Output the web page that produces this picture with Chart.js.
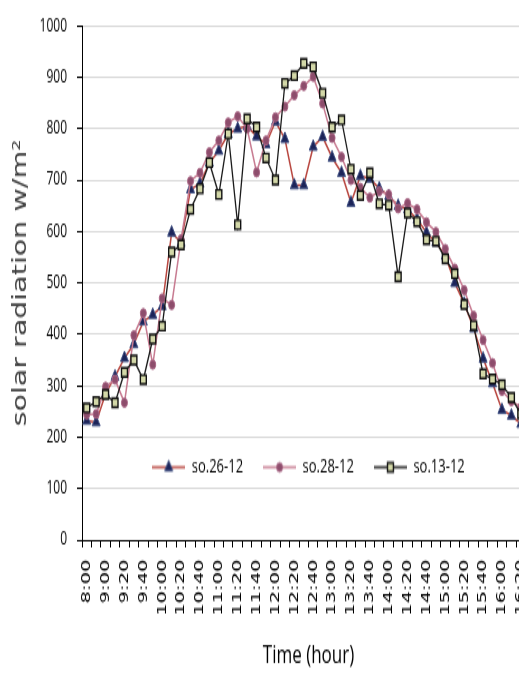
<!DOCTYPE html>
<html>
<head>
<meta charset="utf-8">
<script src="https://cdn.jsdelivr.net/npm/chart.js@4.4.1/dist/chart.umd.min.js"></script>
<style>
    html { overflow: hidden; background: #fff; }
    body { margin: 0; padding: 0; height: 677px; }
    /* the original picture is stretched vertically, so the chart is too */
    #wrap { position: relative; width: 554px; height: 451px; transform: scaleY(1.5); transform-origin: 0 0; }
</style>
</head>
<body>
<div id="wrap"><canvas id="radChart"></canvas></div>
<script>
// time of each reading (every other one is printed on the axis)
const times = ["8:00", "8:30", "9:00", "9:10", "9:20", "9:30", "9:40", "9:50",
    "10:00", "10:10", "10:20", "10:30", "10:40", "10:50", "11:00", "11:10", "11:20", "11:30", "11:40", "11:50",
    "12:00", "12:10", "12:20", "12:30", "12:40", "12:50", "13:00", "13:10", "13:20", "13:30", "13:40", "13:50",
    "14:00", "14:10", "14:20", "14:30", "14:40", "14:50", "15:00", "15:10", "15:20", "15:30", "15:40", "15:50",
    "16:00", "16:10", "16:20", "16:30"];

// solar radiation, W/m2
const so26 = [232, 229, 285, 318, 354, 381, 425, 438, 455, 598, 578, 682, 693, 734, 757, 790,
    800, 805, 785, 770, 814, 780, 690, 690, 765, 784, 744, 714, 656, 708, 703, 684,
    669, 650, 643, 624, 598, 579, 553, 500, 460, 412, 353, 305, 253, 242, 226, 215];
const so28 = [244, 245, 298, 312, 267, 398, 441, 341, 470, 457, 585, 698, 714, 754, 777, 812,
    824, 800, 715, 777, 822, 843, 865, 883, 901, 849, 782, 745, 700, 685, 666, 678,
    672, 645, 655, 643, 618, 599, 566, 528, 486, 436, 389, 344, 290, 270, 258, 248];
const so13 = [257, 269, 283, 267, 326, 350, 312, 391, 416, 560, 574, 643, 683, 734, 672, 790,
    613, 819, 803, 743, 700, 888, 903, 927, 920, 869, 803, 817, 721, 670, 714, 654,
    651, 512, 636, 619, 584, 581, 547, 518, 458, 417, 323, 313, 302, 277, 245, 235];

const yMin = 0;
const yMax = 1000;
const yStep = 100;

// so.13-12 first so it is drawn on top; legend is reversed back
const datasets = [
    {
        label: "so.13-12", data: so13,
        borderColor: "#1a1a1a", borderWidth: 1.3,
        pointStyle: "rect", pointRadius: 4.2,
        pointBackgroundColor: "#d3d8a8", pointBorderColor: "#111", pointBorderWidth: 1.4,
    },
    {
        label: "so.28-12", data: so28,
        borderColor: "#c77b91", borderWidth: 1.5,
        pointStyle: "circle", pointRadius: 3,
        pointBackgroundColor: "#8d4d6c", pointBorderColor: "#a86383", pointBorderWidth: 1,
    },
    {
        label: "so.26-12", data: so26,
        borderColor: "#b8463f", borderWidth: 1.5,
        pointStyle: "triangle", pointRadius: 4.6,
        pointBackgroundColor: "#1c2459", pointBorderColor: "#3d4d80", pointBorderWidth: 1,
    },
];
datasets.forEach(ds => { ds.tension = 0; ds.fill = false; });

// little "line + marker" picture for each legend entry
function legendSymbol(ds) {
    const c = document.createElement("canvas");
    c.width = 33;
    c.height = 16;
    const g = c.getContext("2d");
    g.strokeStyle = ds.borderColor;
    g.lineWidth = ds.borderWidth;
    g.beginPath();
    g.moveTo(0, 8);
    g.lineTo(33, 8);
    g.stroke();
    g.fillStyle = ds.pointBackgroundColor;
    g.strokeStyle = ds.pointBorderColor;
    g.lineWidth = ds.pointBorderWidth;
    Chart.helpers.drawPoint(g, {
        pointStyle: ds.pointStyle, radius: ds.pointRadius, rotation: 0, borderWidth: ds.pointBorderWidth,
    }, 16.5, 8);
    return c;
}
const symbols = datasets.map(legendSymbol);

// put the legend inside the plot, near the bottom, like the original
const legendInside = {
    id: "legendInside",
    beforeLayout(chart) {
        const lg = chart.legend;
        if (lg && !lg._inside) {
            const fit = lg.fit;
            lg.fit = function () { fit.call(this); this.height = 0; };
            lg._inside = true;
        }
    },
    afterLayout(chart) {
        const lg = chart.legend;
        const area = chart.chartArea;
        const cy = area.bottom - 46;
        lg.left = area.left;
        lg.right = area.right;
        lg.width = area.right - area.left;
        lg.top = cy - 29;
        lg.bottom = cy + 20;
        lg.height = 49;
    },
};

const ctx = document.getElementById("radChart").getContext("2d");
new Chart(ctx, {
    type: "line",
    data: { labels: times, datasets: datasets },
    plugins: [legendInside],
    options: {
        responsive: true,
        maintainAspectRatio: false,
        animation: false,
        layout: { padding: { top: 15, right: 12, bottom: 0, left: 0 } },
        plugins: {
            tooltip: { enabled: false },
            legend: {
                reverse: true,
                labels: {
                    usePointStyle: true,
                    pointStyleWidth: 33,
                    padding: 20,
                    color: "#000",
                    font: { family: "Open Sans", size: 13 },
                    generateLabels(chart) {
                        const items = Chart.defaults.plugins.legend.labels.generateLabels(chart);
                        items.forEach(it => { it.pointStyle = symbols[it.datasetIndex]; });
                        return items;
                    },
                },
            },
        },
        scales: {
            x: {
                offset: true,
                grid: { offset: true, drawOnChartArea: false, drawTicks: true, tickLength: 5, tickColor: "#000" },
                border: { color: "#000", width: 1 },
                ticks: {
                    autoSkip: false,
                    minRotation: 90,
                    maxRotation: 90,
                    padding: 8,
                    color: "#000",
                    font: { family: "DejaVu Sans", size: 13 },
                    callback: (value, index) => (index % 2 === 0 ? times[index] : ""),
                },
                title: {
                    display: true,
                    text: "Time (hour)",
                    color: "#000",
                    font: { family: "Open Sans", size: 17 },
                    padding: { top: 0, bottom: 4 },
                },
                afterFit(scale) { scale.height = 91; },
            },
            y: {
                min: yMin,
                max: yMax,
                ticks: {
                    stepSize: yStep,
                    padding: 10,
                    color: "#000",
                    font: { family: "Open Sans", size: 12 },
                    callback: value => String(value),
                },
                grid: { color: "#d9d9d9", tickColor: "#000", tickLength: 5 },
                border: { color: "#000", width: 1 },
                title: {
                    display: true,
                    text: "solar radiation w/m²",
                    color: "#404040",
                    font: { family: "DejaVu Sans", size: 19 },
                    padding: { top: 10, bottom: 0 },
                },
                afterFit(scale) { scale.width = 82; },
            },
        },
    },
});
</script>
</body>
</html>
